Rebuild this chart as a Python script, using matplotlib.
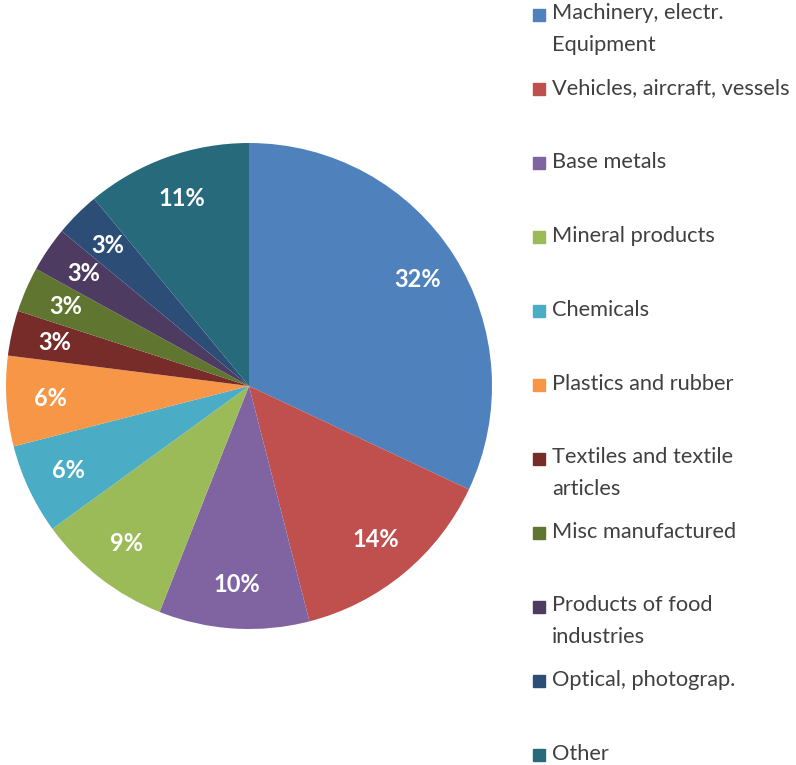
import matplotlib
matplotlib.use('Agg')
from matplotlib import pyplot as plt
from matplotlib.patches import Rectangle

plt.rcParams['font.family'] = ['Lato', 'DejaVu Sans']

categories = ['Machinery, electr.\nEquipment', 'Vehicles, aircraft, vessels',
              'Base metals', 'Mineral products', 'Chemicals',
              'Plastics and rubber', 'Textiles and textile\narticles',
              'Misc manufactured', 'Products of food\nindustries',
              'Optical, photograp.', 'Other']
shares = [32, 14, 10, 9, 6, 6, 3, 3, 3, 3, 11]
colors = ['#4F81BD', '#C0504D', '#8064A2', '#9BBB59', '#4BACC6', '#F79646',
          '#772C2A', '#5F7530', '#4D3B62', '#2C4D75', '#276A7C']

W, H = 796, 765
fig = plt.figure(figsize=(W / 100, H / 100), dpi=100)

# pie centre and radius in pixels
cx, cy, r = 249, 386, 243
ax = fig.add_axes([(cx - r) / W, (H - cy - r) / H, 2 * r / W, 2 * r / H])
wedges, texts, autotexts = ax.pie(shares, colors=colors, startangle=90,
                                  counterclock=False, autopct='%d%%',
                                  pctdistance=0.82, radius=1,
                                  wedgeprops=dict(linewidth=0))
for t in autotexts:
    t.set_color('white')
    t.set_fontweight('bold')
    t.set_fontsize(17)
ax.set_xlim(-1, 1)
ax.set_ylim(-1, 1)
ax.set_aspect('equal')
ax.axis('off')

# legend drawn item by item
for i, (lab, col) in enumerate(zip(categories, colors)):
    y = 15 + 74 * i
    nlines = lab.count('\n') + 1
    fig.patches.append(Rectangle((533 / W, 1 - (y + 6) / H), 12 / W, 12 / H,
                                 transform=fig.transFigure, color=col))
    fig.text(552 / W, 1 - (y - 1 + 15 * (nlines - 1)) / H, lab, fontsize=15.7,
             color='#404040', va='center', ha='left', linespacing=1.78)

fig.savefig('out.png', dpi=100)
